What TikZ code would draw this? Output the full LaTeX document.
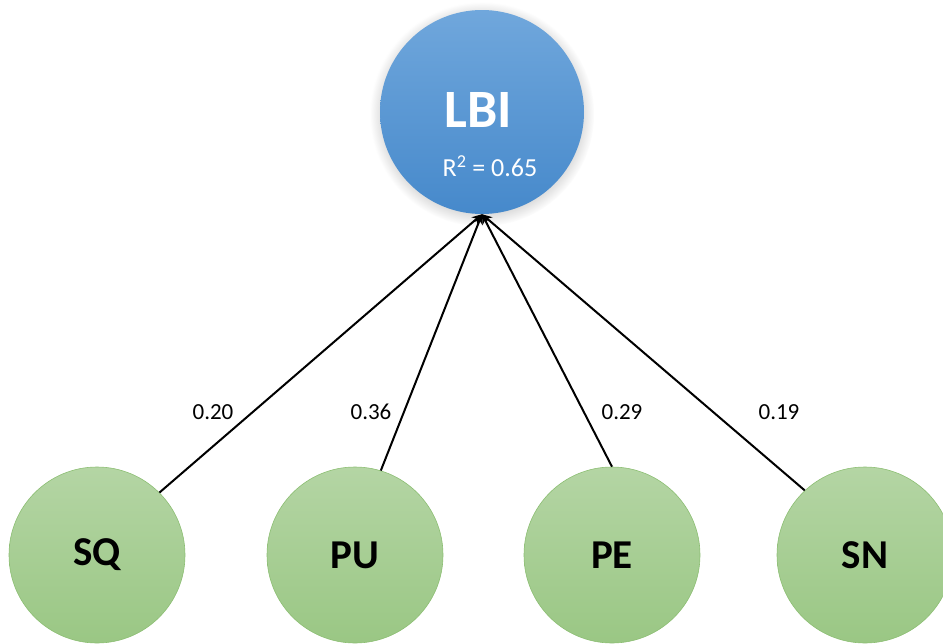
\documentclass[tikz,border=0pt]{standalone}
\usepackage{fontspec}
\setmainfont{Carlito}
\usetikzlibrary{shadows,arrows.meta}

\definecolor{lbitop}{RGB}{112,167,220}
\definecolor{lbibot}{RGB}{70,137,203}
\definecolor{vartop}{RGB}{180,213,164}
\definecolor{varbot}{RGB}{154,199,132}
\definecolor{varline}{RGB}{140,190,115}

\begin{document}
\begin{tikzpicture}[x=1pt, y=-1pt,
        outcome/.style={circle, minimum size=204pt, inner sep=0pt,
            top color=lbitop, bottom color=lbibot, text=white,
            circular drop shadow={shadow xshift=0pt, shadow yshift=-2pt, opacity=.35}},
        factor/.style={circle, minimum size=176pt, inner sep=0pt,
            top color=vartop, bottom color=varbot, draw=varline, line width=.6pt,
            font=\fontsize{41}{48}\selectfont\bfseries},
        path/.style={-{Stealth[length=10pt, width=9pt]}, line width=2pt},
        coef/.style={font=\fontsize{23}{28}\selectfont}]
        \useasboundingbox (0,0) rectangle (943,643);

        % Dependent variable
        \node[outcome] (lbi) at (482,112) {};
        \node[text=white, font=\fontsize{54}{60}\selectfont\bfseries] (lbiname) at (478,110) {LBI};
        \node[text=white, font=\fontsize{26}{31}\selectfont] (rsq) at (490,166) {R\textsuperscript{2} = 0.65};

        % Predictors
        \node[factor] (sq) at (97,555) {SQ};
        \node[factor] (pu) at (355,555) {PU};
        \node[factor] (pe) at (612,555) {PE};
        \node[factor] (sn) at (865,555) {SN};

        % Path coefficients
        \draw[path] (sq.45) -- (lbi.south);
        \draw[path] (pu.73) -- (lbi.south);
        \draw[path] (pe.north) -- (lbi.south);
        \draw[path] (sn.133) -- (lbi.south);

        \node[coef] (c1) at (213,412) {0.20};
        \node[coef] (c2) at (371,412) {0.36};
        \node[coef] (c3) at (622,412) {0.29};
        \node[coef] (c4) at (779,412) {0.19};
\end{tikzpicture}
\end{document}
